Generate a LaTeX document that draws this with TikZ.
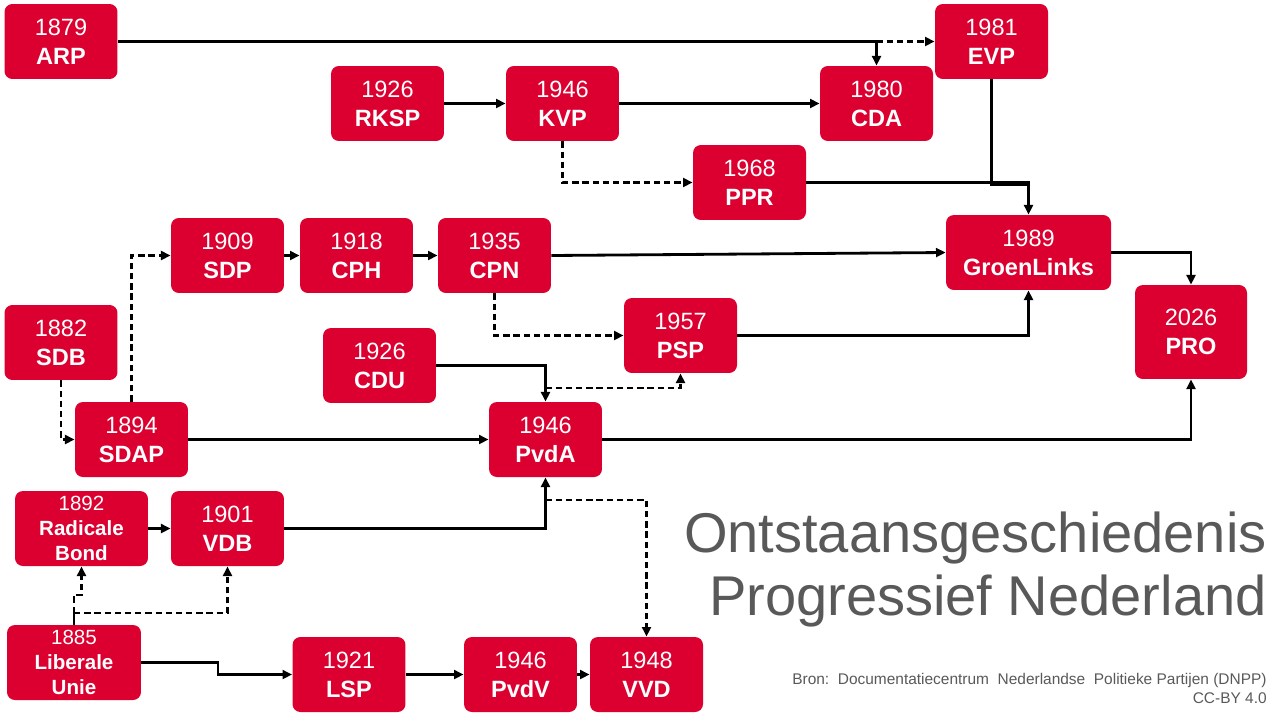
\documentclass[tikz,border=0pt]{standalone}
\usepackage{fontspec}
\setmainfont{Liberation Sans}
\usetikzlibrary{arrows.meta}
\definecolor{partyred}{RGB}{220,0,48}
\definecolor{titlegray}{RGB}{89,89,89}

\begin{document}
\begin{tikzpicture}[x=0.02cm,y=-0.02cm,
    party/.style={rectangle,rounded corners=4.5pt,fill=partyred,text=white,minimum width=2.26cm,minimum height=1.5cm,inner sep=0pt,align=center,font=\fontsize{13.4}{16.5}\selectfont},
    smallparty/.style={party,font=\fontsize{11.7}{14}\selectfont},
    plain/.style={line width=1.6pt},
    link/.style={plain,-{Triangle[length=5.5pt,width=5pt]}},
    dlink/.style={link,dash pattern=on 3.6pt off 2.2pt}]

      \useasboundingbox (0,0) rectangle (1280,720);

      \node[party] (arp) at (61,41.5) {1879\\\textbf{ARP}};
      \node[party] (evp) at (991.5,41.5) {1981\\\textbf{EVP}};
      \node[party] (rksp) at (387.5,103.5) {1926\\\textbf{RKSP}};
      \node[party] (kvp) at (562.5,103.5) {1946\\\textbf{KVP}};
      \node[party] (cda) at (876.5,103.5) {1980\\\textbf{CDA}};
      \node[party] (ppr) at (749.5,182.5) {1968\\\textbf{PPR}};
      \node[party] (sdp) at (227.5,255.5) {1909\\\textbf{SDP}};
      \node[party] (cph) at (356.5,255.5) {1918\\\textbf{CPH}};
      \node[party] (cpn) at (494.5,255.5) {1935\\\textbf{CPN}};
      \node[party,minimum width=3.3cm] (gl) at (1028.5,252.5) {1989\\\textbf{GroenLinks}};
      \node[party,minimum width=2.24cm,minimum height=1.88cm] (pro) at (1191,332) {2026\\\textbf{PRO}};
      \node[party] (sdb) at (61,342.5) {1882\\\textbf{SDB}};
      \node[party] (psp) at (680.5,335.5) {1957\\\textbf{PSP}};
      \node[party] (cdu) at (379.5,365.5) {1926\\\textbf{CDU}};
      \node[party] (sdap) at (131.5,439.5) {1894\\\textbf{SDAP}};
      \node[party] (pvda) at (545.5,439.5) {1946\\\textbf{PvdA}};
      \node[smallparty,minimum width=2.66cm] (rb) at (81.5,528.5) {1892\\\textbf{Radicale}\\\textbf{Bond}};
      \node[party] (vdb) at (227.5,528.5) {1901\\\textbf{VDB}};
      \node[smallparty,minimum width=2.68cm] (lu) at (74,662.5) {1885\\\textbf{Liberale}\\\textbf{Unie}};
      \node[party] (lsp) at (349,674.5) {1921\\\textbf{LSP}};
      \node[party] (pvdv) at (520.5,674.5) {1946\\\textbf{PvdV}};
      \node[party] (vvd) at (646.5,674.5) {1948\\\textbf{VVD}};

      \node[anchor=base east,inner sep=0pt,text=titlegray,font=\fontsize{31.9}{36}\selectfont] (t1) at (1267,552) {Ontstaansgeschiedenis};
      \node[anchor=base east,inner sep=0pt,text=titlegray,font=\fontsize{31.9}{36}\selectfont] (t2) at (1267,615) {Progressief Nederland};
      \node[anchor=base east,inner sep=0pt,text=titlegray,font=\fontsize{8.8}{10.8}\selectfont] (s1) at (1267,684) {Bron:\ \ Documentatiecentrum\ \ Nederlandse\ \ Politieke Partijen (DNPP)};
      \node[anchor=base east,inner sep=0pt,text=titlegray,font=\fontsize{8.8}{10.8}\selectfont] (s2) at (1267,703) {CC-BY 4.0};

      \coordinate (arpsplit) at (876.5,41.5);
      \coordinate (pvdatop) at (545.5,388);
      \coordinate (pvdabot) at (545.5,500);
      \coordinate (lusplit) at (74,613);
      \coordinate (lujog) at (74,595);
      \coordinate (lubend) at (218,674.5);
      \coordinate (evpjoin) at (1028.5,185);

      \draw[link] (arp.east) -| (cda.north);
      \draw[dlink] (arpsplit) -- (evp.west);
      \draw[link] (rksp) -- (kvp);
      \draw[link] (kvp) -- (cda);
      \draw[dlink] (kvp.south) |- (ppr.west);
      \draw[link] (ppr.east) -| (gl.north);
      \draw[plain] (evp.south) |- (evpjoin);
      \draw[link] (sdp) -- (cph);
      \draw[link] (cph) -- (cpn);
      \draw[link] (cpn.east) -- (gl.west);
      \draw[dlink] (cpn.south) |- (psp.west);
      \draw[link] (psp.east) -| (gl.south);
      \draw[link] (gl.east) -| (pro.north);
      \draw[dlink] (sdb.south) |- (sdap.west);
      \draw[dlink] (sdap.north) |- (sdp.west);
      \draw[link] (sdap) -- (pvda);
      \draw[link] (cdu.east) -| (pvda.north);
      \draw[dlink] (pvdatop) -| (psp.south);
      \draw[link] (pvda.east) -| (pro.south);
      \draw[link] (vdb.east) -| (pvda.south);
      \draw[dlink] (pvdabot) -| (vvd.north);
      \draw[link] (rb) -- (vdb);
      \draw[plain] (lu.north) -- (lusplit);
      \draw[dlink] (lusplit) -- (lujog) -| (rb.south);
      \draw[dlink] (lusplit) -| (vdb.south);
      \draw[link] (lu.east) -| (lubend) -- (lsp.west);
      \draw[link] (lsp) -- (pvdv);
      \draw[link] (pvdv) -- (vvd);
    \end{tikzpicture}
\end{document}
